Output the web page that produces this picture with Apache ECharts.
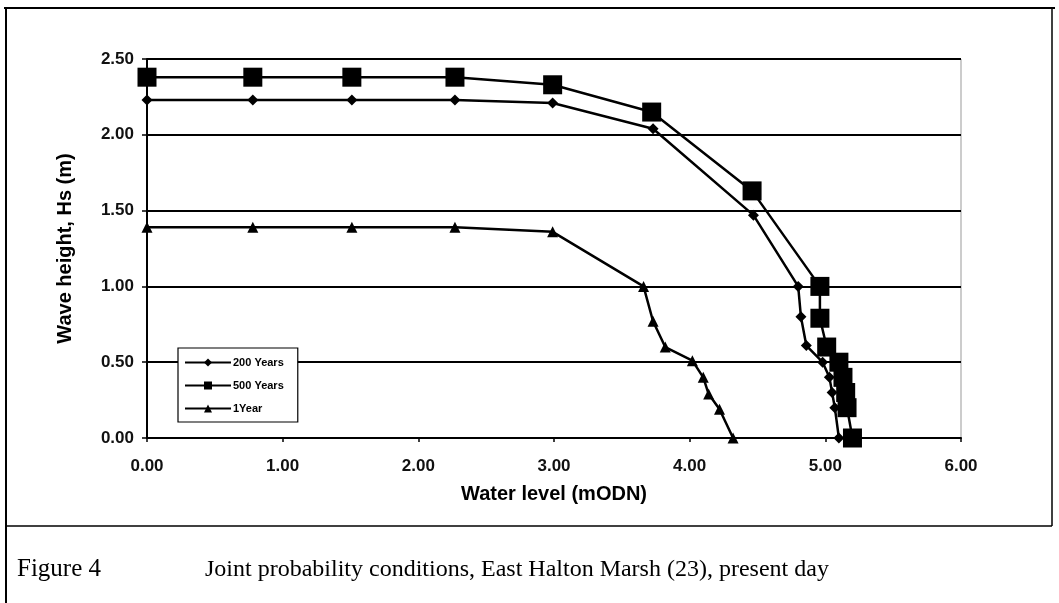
<!DOCTYPE html>
<html>
<head>
<meta charset="utf-8">
<script src="https://cdn.jsdelivr.net/npm/echarts@6/dist/echarts.min.js"></script>
<style>
  html, body { margin: 0; padding: 0; background: #fff; }
  #chartContainer01 { width: 1059px; height: 603px; }
</style>
</head>
<body>
<div id="chartContainer01"></div>
<script>
// values
const levels200 = [0, 0.78, 1.51, 2.27, 2.99, 3.73, 4.47, 4.80, 4.82, 4.86, 4.98, 5.03, 5.05, 5.07, 5.10];
const heights200 = [2.23, 2.23, 2.23, 2.23, 2.21, 2.04, 1.47, 1.00, 0.80, 0.61, 0.50, 0.40, 0.30, 0.20, 0.00];

const levels500 = [0, 0.78, 1.51, 2.27, 2.99, 3.72, 4.46, 4.96, 4.96, 5.01, 5.10, 5.13, 5.15, 5.16, 5.20];
const heights500 = [2.38, 2.38, 2.38, 2.38, 2.33, 2.15, 1.63, 1.00, 0.79, 0.60, 0.50, 0.40, 0.30, 0.20, 0.00];

const levels1 = [0, 0.78, 1.51, 2.27, 2.99, 3.66, 3.73, 3.82, 4.02, 4.10, 4.14, 4.22, 4.32];
const heights1 = [1.39, 1.39, 1.39, 1.39, 1.36, 1.00, 0.77, 0.60, 0.51, 0.40, 0.29, 0.19, 0.00];

const names = ['200 Years', '500 Years', '1Year'];

const pairs = (xs, ys) => xs.map((x, i) => [x, ys[i]]);

const chart = echarts.init(document.getElementById('chartContainer01'));

const lineSeries = (name, data, symbol, size) => {
    return {
        name,
        type: 'line',
        data,
        symbol,
        symbolSize: size,
        showSymbol: true,
        z: 3,
        lineStyle: { color: '#000', width: 2.5 },
        itemStyle: { color: '#000' },
        emphasis: { disabled: true }
    }
}

const option = {
    animation: false,
    backgroundColor: '#fff',
    grid: {
        left: 147, right: 98, top: 59, bottom: 165,
        show: true, borderColor: '#999', borderWidth: 1
    },
    legend: {
        data: names,
        orient: 'vertical',
        left: 178, top: 348,
        padding: [9, 14, 8, 6],
        itemWidth: 46, itemHeight: 10, itemGap: 12,
        backgroundColor: '#fff',
        borderColor: '#000', borderWidth: 1.2,
        textStyle: { fontFamily: 'Liberation Sans', fontWeight: 'bold', fontSize: 11, color: '#000', padding: [0, 0, 0, -3] }
    },
    xAxis: {
        type: 'value',
        min: 0, max: 6, interval: 1,
        name: 'Water level (mODN)',
        nameLocation: 'middle',
        nameGap: 46,
        nameTextStyle: { fontFamily: 'Liberation Sans', fontWeight: 'bold', fontSize: 20, color: '#000' },
        axisLine: { lineStyle: { color: '#000', width: 2 } },
        axisTick: { show: true, length: 4, lineStyle: { color: '#000', width: 1.5 } },
        axisLabel: {
            formatter: v => v.toFixed(2),
            fontFamily: 'Liberation Sans', fontWeight: 'bold', fontSize: 17, color: '#111', margin: 20
        },
        splitLine: { show: false }
    },
    yAxis: {
        type: 'value',
        min: 0, max: 2.5, interval: 0.5,
        name: 'Wave height, Hs (m)',
        nameLocation: 'middle',
        nameGap: 72,
        nameTextStyle: { fontFamily: 'Liberation Sans', fontWeight: 'bold', fontSize: 20, color: '#000' },
        axisLine: { show: true, lineStyle: { color: '#000', width: 2 } },
        axisTick: { show: true, length: 5, lineStyle: { color: '#000', width: 1.5 } },
        axisLabel: {
            formatter: v => v.toFixed(2),
            fontFamily: 'Liberation Sans', fontWeight: 'bold', fontSize: 17, color: '#111', margin: 13
        },
        splitLine: { show: true, lineStyle: { color: '#000', width: 1.8 } }
    },
    series: [
        lineSeries('200 Years', pairs(levels200, heights200), 'diamond', 11),
        lineSeries('500 Years', pairs(levels500, heights500), 'rect', 19),
        lineSeries('1Year', pairs(levels1, heights1), 'triangle', 11)
    ],
    graphic: [
        // figure frame
        { type: 'line', shape: { x1: 4, y1: 8, x2: 1055, y2: 8 }, style: { stroke: '#000', lineWidth: 2 } },
        { type: 'line', shape: { x1: 6, y1: 8, x2: 6, y2: 603 }, style: { stroke: '#000', lineWidth: 2 } },
        { type: 'line', shape: { x1: 1052, y1: 8, x2: 1052, y2: 526 }, style: { stroke: '#000', lineWidth: 1.5 } },
        { type: 'line', shape: { x1: 6, y1: 526, x2: 1052, y2: 526 }, style: { stroke: '#000', lineWidth: 1.5 } },
        {
            type: 'text', left: 17, top: 557,
            style: { text: 'Figure 4', font: '25px "Liberation Serif"', fill: '#000' }
        },
        {
            type: 'text', left: 205, top: 558,
            style: { text: 'Joint probability conditions, East Halton Marsh (23), present day', font: '24px "Liberation Serif"', fill: '#000' }
        }
    ]
};
chart.setOption(option);
</script>
</body>
</html>
